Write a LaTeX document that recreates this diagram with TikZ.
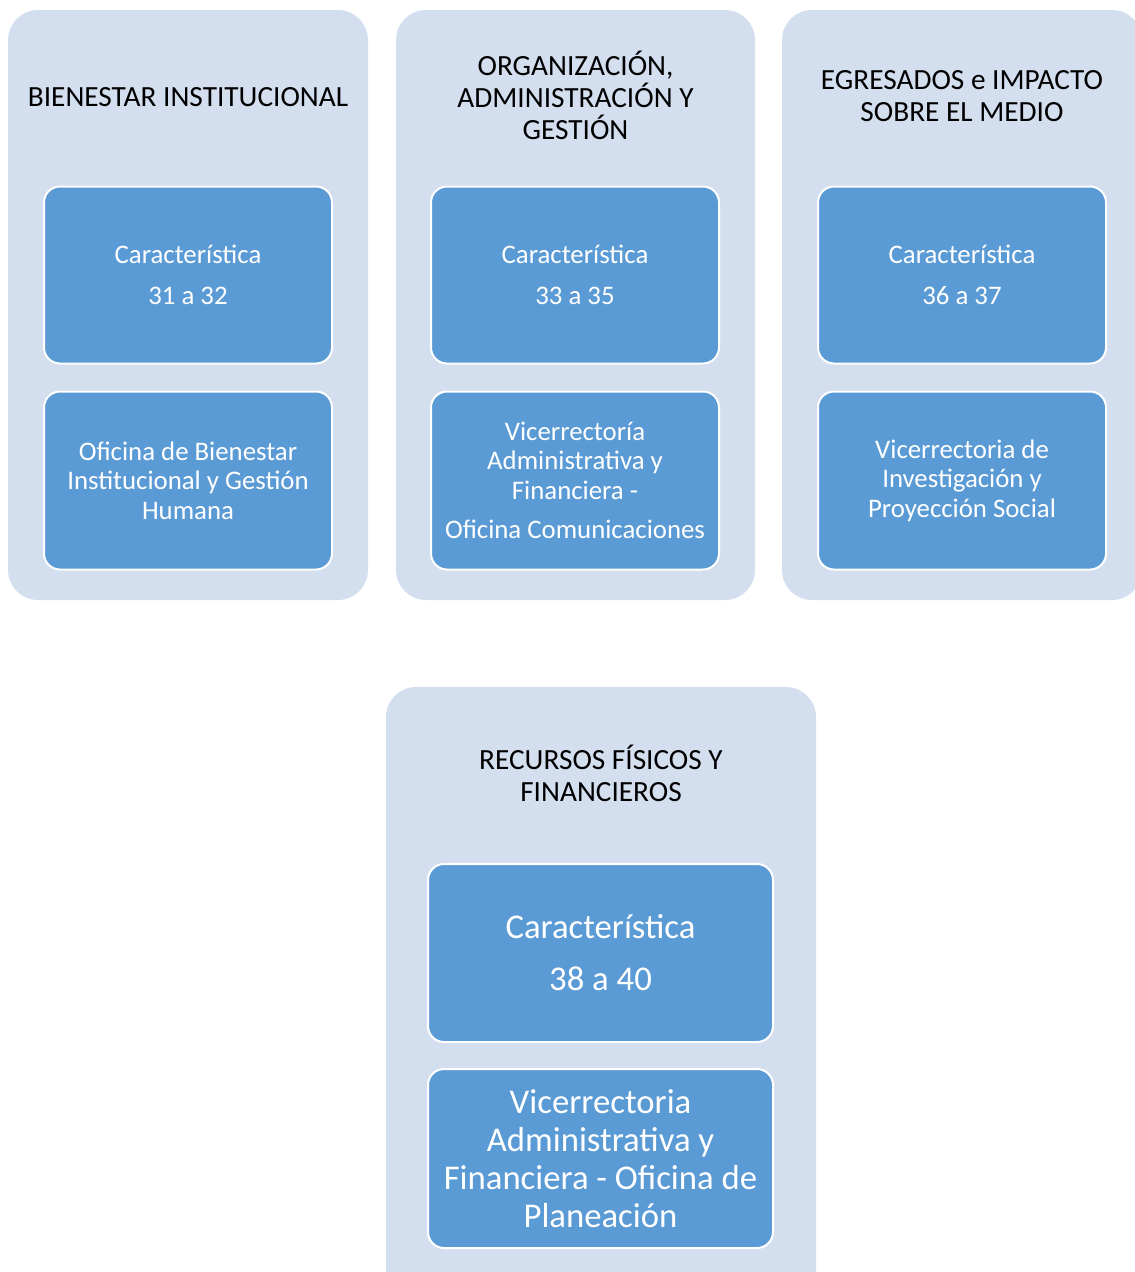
\documentclass[tikz,border=0pt]{standalone}
\usepackage{fontspec}
\setmainfont{Carlito}
\definecolor{panelbg}{RGB}{211,222,239}
\definecolor{boxbg}{RGB}{91,155,213}
\begin{document}
\begin{tikzpicture}[x=1pt,y=-1pt,
  panel/.style={rectangle,rounded corners=30pt,fill=panelbg,draw=none,inner sep=0pt},
  ttl/.style={align=center,text=black,font=\fontsize{29.3}{32}\selectfont,inner sep=0pt},
  cbox/.style={rectangle,rounded corners=16pt,fill=boxbg,draw=white,line width=2pt,
     text=white,align=center,inner sep=0pt,font=\fontsize{26.8}{29.5}\selectfont},
  bcbox/.style={cbox,font=\fontsize{34.7}{38}\selectfont}]
\useasboundingbox (0,0) rectangle (1135,1272);
\clip (0,0) rectangle (1135,1272);
% panels
\node[panel,minimum width=360pt,minimum height=590pt] (p1) at (188,305) {};
\node[panel,minimum width=359pt,minimum height=590pt] (p2) at (575.5,305) {};
\node[panel,minimum width=360pt,minimum height=590pt] (p3) at (962,305) {};
\node[panel,minimum width=430pt,minimum height=620pt] (p4) at (601,997) {};
% titles
\node[ttl] (t1) at (188,97) {BIENESTAR INSTITUCIONAL};
\node[ttl] (t2) at (575.5,95) {ORGANIZACIÓN,\\ADMINISTRACIÓN Y\\GESTIÓN};
\node[ttl] (t3) at (962,96) {EGRESADOS e IMPACTO\\SOBRE EL MEDIO};
\node[ttl] (t4) at (601,773) {RECURSOS FÍSICOS Y\\FINANCIEROS};
% boxes
\node[cbox,minimum width=288pt,minimum height=177pt] (c1) at (188,275) {Característica\\[11.5pt]31 a 32};
\node[cbox,minimum width=288pt,minimum height=178pt] (o1) at (188,480.5) {Oficina de Bienestar\\Institucional y Gestión\\Humana};
\node[cbox,minimum width=288pt,minimum height=177pt] (c2) at (575,275) {Característica\\[11.5pt]33 a 35};
\node[cbox,minimum width=288pt,minimum height=178pt] (o2) at (575,480.5) {Vicerrectoría\\Administrativa y\\Financiera -\\[10pt]Oficina Comunicaciones};
\node[cbox,minimum width=288pt,minimum height=177pt] (c3) at (962,275) {Característica\\[11.5pt]36 a 37};
\node[cbox,minimum width=288pt,minimum height=178pt] (o3) at (962,480.5) {Vicerrectoria de\\Investigación y\\Proyección Social};
\node[bcbox,minimum width=345pt,minimum height=178pt] (c4) at (600.5,953) {Característica\\[14pt]38 a 40};
\node[bcbox,minimum width=345pt,minimum height=179pt] (o4) at (600.5,1158.5) {Vicerrectoria\\Administrativa y\\Financiera - Oficina de\\Planeación};
\end{tikzpicture}
\end{document}
